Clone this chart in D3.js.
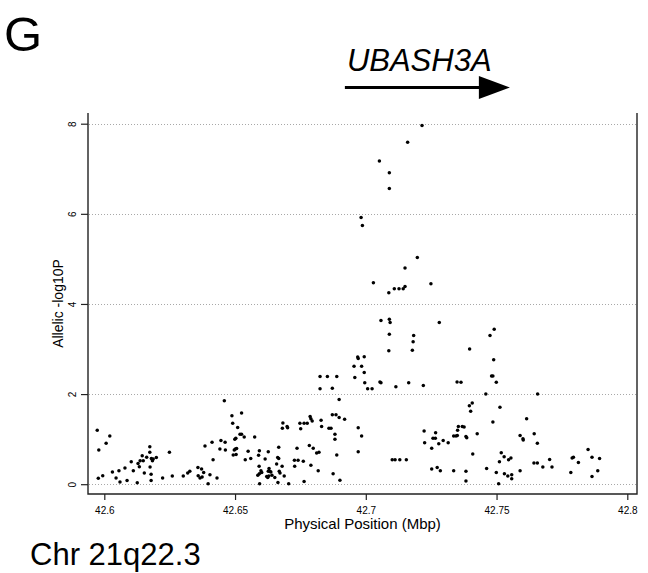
<!DOCTYPE html>
<html>
<head>
<meta charset="utf-8">
<script src="https://cdn.jsdelivr.net/npm/d3@7"></script>
<style>
  body { margin: 0; background: #fff; }
  svg { display: block; }
  text { font-family: "Liberation Sans", Arial, sans-serif; fill: #000; }
</style>
</head>
<body>
<svg id="chart" width="648" height="573"></svg>
<script>
// SNP physical positions (Mbp) on chromosome 21
const positionMbp = [
  42.5973,42.5979,42.6007,42.6021,42.5977,42.5994,42.6031,42.6045,42.6056,42.6060,
  42.6079,42.6087,42.6103,42.6111,42.6126,42.6129,42.6134,42.6137,42.6145,42.6149,
  42.6153,42.6162,42.6174,42.6174,42.6175,42.6179,42.6179,42.6180,42.6184,42.6187,
  42.6199,42.6223,42.6249,42.6260,42.6302,42.6319,42.6327,42.6358,42.6372,42.6359,
  42.6366,42.6374,42.6380,42.6385,42.6397,42.6404,42.6412,42.6416,42.6431,42.6442,
  42.6459,42.6446,42.6462,42.6463,42.6488,42.6491,42.6525,42.6510,42.6519,42.6525,
  42.6535,42.6499,42.6503,42.6501,42.6506,42.6497,42.6493,42.6504,42.6550,42.6539,
  42.6560,42.6575,42.6593,42.6590,42.6627,42.6615,42.6592,42.6599,42.6593,42.6587,
  42.6602,42.6594,42.6621,42.6630,42.6634,42.6637,42.6627,42.6625,42.6629,42.6652,
  42.6664,42.6641,42.6667,42.6663,42.6667,42.6659,42.6680,42.6669,42.6672,42.6688,
  42.6705,42.6683,42.6681,42.6699,42.6701,42.6737,42.6727,42.6741,42.6728,42.6761,
  42.6764,42.6748,42.6751,42.6764,42.6776,42.6787,42.6790,42.6795,42.6784,42.6799,
  42.6790,42.6812,42.6821,42.6818,42.6829,42.6831,42.6825,42.6853,42.6825,42.6859,
  42.6867,42.6889,42.6872,42.6898,42.6872,42.6886,42.6898,42.6919,42.6882,42.6882,
  42.6971,42.6984,42.6889,42.6971,42.6875,42.6901,42.6955,42.6984,42.6994,42.6958,
  42.6969,42.6971,42.6994,42.6996,42.7007,42.7024,42.7054,42.7058,42.7115,42.7164,
  42.7220,42.7349,42.7364,42.7058,42.7090,42.7093,42.7281,42.7090,42.7183,42.7181,
  42.7088,42.7178,
  42.7101,42.7112,42.7130,42.7155,
  42.7223,42.7225,42.7267,42.7257,42.7266,42.7279,42.7296,42.7315,42.7252,42.7354,
  42.7351,42.7336,42.7345,
  42.7350,42.7252,42.7273,42.7285,42.7336,42.7369,42.7376,
  42.7215,42.7160,42.7052,42.7090,42.7090,42.6982,42.6987,42.7197,42.7150,42.7029,
  42.7249,42.7109,42.7127,42.7143,42.7150,42.7088,
  42.7491,42.7475,42.7397,42.7489,42.7481,42.7486,42.7499,42.7459,42.7657,42.7396,
  42.7407,42.7401,
  42.7513,42.7615,42.7486,42.7383,42.7386,42.7426,42.7409,42.7383,42.7383,42.7462,
  42.7499,42.7508,
  42.7511,42.7518,42.7529,42.7546,42.7555,42.7530,42.7543,42.7558,42.7558,42.7590,
  42.7601,42.7602,
  42.7590,42.7644,42.7656,42.7643,42.7656,42.7677,42.7703,42.7712,42.7784,42.7789,
  42.7794,42.7813,
  42.7850,42.7865,42.7865,42.7887,42.7894
];

// Allelic association, -log10(P), one value per SNP above
const allelicLogP = [
  1.20,0.76,0.91,1.07,0.13,0.19,0.27,0.14,0.30,0.05,
  0.36,0.08,0.50,0.30,0.03,0.46,0.39,0.52,0.63,0.52,
  0.25,0.60,0.83,0.71,0.38,0.22,0.08,0.57,0.52,0.56,
  0.59,0.14,0.71,0.18,0.18,0.25,0.29,0.37,0.34,0.19,
  0.14,0.16,0.26,0.85,0.01,0.21,0.93,0.54,0.14,0.78,
  1.85,0.97,0.93,0.76,1.52,1.35,1.58,1.26,1.11,1.11,
  1.05,1.00,1.02,0.78,0.79,0.76,0.65,0.66,0.73,0.54,
  0.57,1.05,0.74,0.64,0.72,0.56,0.40,0.30,0.23,0.20,
  0.26,0.01,0.17,0.35,0.28,0.27,0.29,0.15,0.18,0.15,
  0.04,0.20,0.82,0.59,0.57,0.45,0.40,0.29,0.25,0.18,
  0.01,1.36,1.24,1.28,1.25,0.80,0.53,0.53,0.40,0.51,
  0.06,1.35,1.23,1.35,1.35,1.50,1.45,1.40,0.86,0.80,
  0.42,0.69,0.71,0.30,1.42,1.28,2.39,2.39,2.12,1.24,
  1.24,2.39,2.13,1.88,1.54,1.54,1.48,1.44,1.11,1.00,
  1.25,1.07,0.65,0.72,0.23,0.09,2.62,2.62,2.48,2.37,
  2.82,2.79,2.83,2.25,2.12,2.12,2.27,2.25,2.16,2.25,
  2.19,2.27,2.26,3.63,3.66,3.59,3.59,3.33,3.30,3.16,
  2.96,2.97,
  0.54,0.54,0.54,0.54,
  1.18,0.92,1.14,1.02,1.02,0.90,0.97,0.92,0.80,1.28,
  1.20,1.07,1.07,
  1.08,0.34,0.37,0.30,0.30,1.28,1.27,
  7.96,7.59,7.17,6.91,6.56,5.92,5.74,5.03,4.80,4.47,
  4.45,4.34,4.34,4.34,4.39,4.25,
  3.44,3.30,3.00,2.76,2.40,2.40,2.26,2.00,2.00,1.74,
  1.80,1.62,
  1.71,1.45,1.38,1.06,1.03,1.12,0.67,0.29,0.07,0.35,
  0.26,0.01,
  0.50,0.70,0.61,0.54,0.58,0.23,0.18,0.21,0.12,1.08,
  1.01,0.98,
  0.30,1.12,0.91,0.47,0.47,0.38,0.55,0.38,0.26,0.58,
  0.60,0.48,
  0.77,0.60,0.17,0.30,0.57
];

const xTickValues = [42.6, 42.65, 42.7, 42.75, 42.8];
const yTickValues = [0, 2, 4, 6, 8];

// Gene track: name and extent (Mbp), drawn as an arrow in the direction of transcription
const geneName = "UBASH3A";
const geneStart = 42.6920;
const geneEnd = 42.7551;

const panelLetter = "G";
const regionLabel = "Chr 21q22.3";
const xTitle = "Physical Position (Mbp)";
const yTitle = "Allelic -log10P";

// ---- layout ----
const plot = { left: 88, right: 637, top: 113, bottom: 494 };

const x = d3.scaleLinear().domain([42.6, 42.8]).range([104.3, 627.3]);
const y = d3.scaleLinear().domain([0, 8]).range([484.2, 123.7]);

const svg = d3.select("#chart");

// horizontal dotted reference lines
svg.append("g")
  .selectAll("line")
  .data(yTickValues)
  .join("line")
  .attr("x1", plot.left + 1)
  .attr("x2", plot.right - 1)
  .attr("y1", d => Math.round(y(d)) + 0.5)
  .attr("y2", d => Math.round(y(d)) + 0.5)
  .attr("stroke", "#a8a8a8")
  .attr("stroke-width", 1)
  .attr("stroke-dasharray", "1,2");

// plot frame: left, bottom and right sides
svg.append("path")
  .attr("d", `M${plot.left},${plot.top} V${plot.bottom} H${plot.right} V${plot.top}`)
  .attr("fill", "none")
  .attr("stroke", "#222")
  .attr("stroke-width", 1.4);

// x axis ticks and labels
const xAxis = d3.axisBottom(x)
  .tickValues(xTickValues)
  .tickSize(6)
  .tickSizeOuter(0)
  .tickFormat(d => String(d));
const gx = svg.append("g").attr("transform", `translate(0,${plot.bottom})`).call(xAxis);
gx.select(".domain").remove();
gx.selectAll(".tick line").attr("stroke", "#222").attr("stroke-width", 1.2);
gx.selectAll(".tick text")
  .attr("y", 20)
  .attr("dy", 0)
  .style("font-family", "'Liberation Sans', Arial, sans-serif")
  .style("font-size", "10px")
  .attr("fill", "#000");

// y axis ticks and rotated labels
const yAxis = d3.axisLeft(y)
  .tickValues(yTickValues)
  .tickSize(7)
  .tickSizeOuter(0)
  .tickFormat(d3.format("d"));
const gy = svg.append("g").attr("transform", `translate(${plot.left},0)`).call(yAxis);
gy.select(".domain").remove();
gy.selectAll(".tick line").attr("stroke", "#222").attr("stroke-width", 1.2);
gy.selectAll(".tick text")
  .attr("x", null).attr("dy", null)
  .attr("text-anchor", "middle")
  .attr("transform", "translate(-12.5,0) rotate(-90)")
  .style("font-family", "'Liberation Sans', Arial, sans-serif")
  .style("font-size", "10px")
  .attr("fill", "#000");

// axis titles
svg.append("text")
  .attr("x", (plot.left + plot.right) / 2)
  .attr("y", 529)
  .attr("text-anchor", "middle")
  .style("font-size", "15px")
  .text(xTitle);

svg.append("text")
  .attr("transform", `translate(62.5,${(plot.top + plot.bottom) / 2}) rotate(-90)`)
  .attr("text-anchor", "middle")
  .style("font-size", "14px")
  .text(yTitle);

// SNP association points
svg.append("g")
  .selectAll("circle")
  .data(d3.zip(positionMbp, allelicLogP))
  .join("circle")
  .attr("cx", d => x(d[0]))
  .attr("cy", d => y(d[1]))
  .attr("r", 1.75)
  .attr("fill", "#000");

// gene arrow
const arrowY = 87.5;
const headLen = 31;
svg.append("line")
  .attr("x1", x(geneStart))
  .attr("x2", x(geneEnd) - headLen + 2)
  .attr("y1", arrowY).attr("y2", arrowY)
  .attr("stroke", "#000")
  .attr("stroke-width", 2.8);
svg.append("path")
  .attr("d", `M${x(geneEnd)},${arrowY} L${x(geneEnd) - headLen},${arrowY - 11.5} L${x(geneEnd) - headLen},${arrowY + 11.5} Z`)
  .attr("fill", "#000");

svg.append("text")
  .attr("x", x(geneStart) + 2)
  .attr("y", 71)
  .style("font-size", "31px")
  .style("font-style", "italic")
  .text(geneName);

// panel letter and region label
svg.append("text")
  .attr("x", 4)
  .attr("y", 51)
  .style("font-size", "49px")
  .text(panelLetter);

svg.append("text")
  .attr("x", 30)
  .attr("y", 565)
  .style("font-size", "31px")
  .text(regionLabel);
</script>
</body>
</html>
